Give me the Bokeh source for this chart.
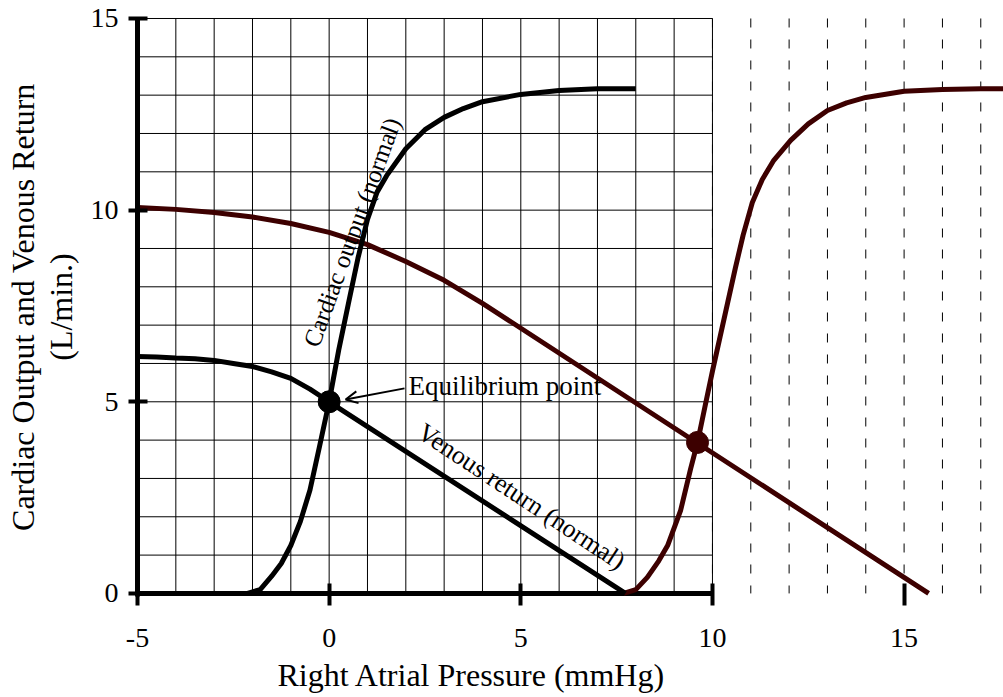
import math
from bokeh.plotting import figure
from bokeh.models import Range1d, LinearAxis, FixedTicker, Label, Arrow, OpenHead, Title
from bokeh.embed import file_html
from bokeh.resources import INLINE

# ---------------- data ----------------
x_ticks = [-5, 0, 5, 10, 15]
y_ticks = [0, 5, 10, 15]
grid_x = [-4, -3, -2, -1, 0, 1, 2, 3, 4, 5, 6, 7, 8, 9, 10]
grid_y = [1, 2, 3, 4, 5, 6, 7, 8, 9, 10, 11, 12, 13, 14, 15]
dash_x = [10, 11, 12, 13, 14, 15, 16, 17]

# Cardiac output (normal)
co_x = [-2.13, -1.8, -1.5, -1.25, -1.0, -0.75, -0.5, -0.25, 0.0, 0.25, 0.5, 0.75,
        1.0, 1.25, 1.5, 2.0, 2.5, 3.0, 3.5, 4.0, 5.0, 6.0, 7.0, 8.0]
co_y = [0.0, 0.1, 0.45, 0.78, 1.25, 1.88, 2.7, 3.84, 5.0, 6.35, 7.55, 8.74,
        9.76, 10.47, 10.9, 11.6, 12.1, 12.42, 12.65, 12.83, 13.02, 13.12, 13.17, 13.17]

# Venous return (normal)
vr_x = [-5.0, -4.5, -4.0, -3.5, -3.0, -2.5, -2.0, -1.5, -1.0, -0.5, 0.0, 7.73]
vr_y = [6.18, 6.17, 6.14, 6.12, 6.08, 6.0, 5.92, 5.78, 5.61, 5.33, 5.0, 0.0]

# Cardiac output (shifted curve, dark red)
co2_x = [7.68, 8.0, 8.3, 8.6, 8.83, 9.17, 9.43, 9.61, 9.8, 10.0, 10.2, 10.4, 10.6,
         10.8, 11.04, 11.3, 11.6, 12.04, 12.5, 13.0, 13.5, 14.0, 15.0, 16.0, 17.0, 17.6]
co2_y = [0.0, 0.1, 0.42, 0.85, 1.25, 2.17, 3.25, 3.94, 4.85, 5.8, 6.7, 7.6, 8.5,
         9.35, 10.2, 10.8, 11.3, 11.82, 12.25, 12.6, 12.8, 12.94, 13.1, 13.15, 13.17, 13.17]

# Venous return (shifted curve, dark red)
vr2_x = [-5.0, -4.0, -3.0, -2.0, -1.0, 0.0, 1.0, 2.0, 3.0, 4.0, 15.64]
vr2_y = [10.07, 10.02, 9.94, 9.82, 9.65, 9.42, 9.1, 8.66, 8.17, 7.57, 0.0]

eq_x = [0.0]
eq_y = [5.0]
eq2_x = [9.61]
eq2_y = [3.94]

DARK = "#3d0000"
FONT = "Liberation Serif"

p = figure(width=1003, height=697, output_backend="svg", toolbar_location=None,
           x_range=Range1d(-5, 17.593), y_range=Range1d(-0.08, 15.026),
           x_axis_location=None, y_axis_location=None,
           min_border_left=137, min_border_right=0, min_border_top=17,
           min_border_bottom=101)
p.outline_line_color = None
p.xgrid.visible = False
p.ygrid.visible = False
p.background_fill_color = "white"
p.border_fill_color = "white"

# grid
p.segment(x0=grid_x, y0=0, x1=grid_x, y1=15, line_color="black", line_width=1)
p.segment(x0=-5, y0=grid_y, x1=10, y1=grid_y, line_color="black", line_width=1)
p.segment(x0=dash_x, y0=15, x1=dash_x, y1=0, line_color="black", line_width=1,
          line_dash="9 12")

# bottom axis line (-5..10)
p.line([x_ticks[0], grid_x[-1]], [0, 0], line_color="black", line_width=5)

# axes
yaxis = LinearAxis(ticker=FixedTicker(ticks=y_ticks), axis_line_width=5,
                   axis_line_color="black",
                   major_tick_line_width=4, major_tick_in=10, major_tick_out=9,
                   minor_tick_line_color=None, major_label_standoff=10,
                   major_label_text_font=FONT, major_label_text_font_size="28px",
                   major_label_text_color="black",
                   axis_label="Cardiac Output and Venous Return\n(L/min.)",
                   axis_label_text_font=FONT, axis_label_text_font_size="32px",
                   axis_label_text_font_style="normal",
                   axis_label_text_line_height=1.04,
                   axis_label_standoff=9, axis_label_text_color="black")
p.add_layout(yaxis, "left")
xaxis = LinearAxis(ticker=FixedTicker(ticks=x_ticks), axis_line_color=None,
                   major_tick_line_width=4, major_tick_in=13, major_tick_out=9,
                   minor_tick_line_color=None, major_label_standoff=23,
                   major_label_text_font=FONT, major_label_text_font_size="28px",
                   major_label_text_color="black",
                   major_label_overrides={-5: "-5"})
p.add_layout(xaxis, "below")
p.add_layout(Title(text="Right Atrial Pressure (mmHg)", align="left", offset=140,
                   text_font=FONT, text_font_size="32px", text_font_style="normal",
                   text_color="black", standoff=10, vertical_align="bottom"), "below")

# curves
p.line(vr2_x, vr2_y, line_color=DARK, line_width=5)
p.line(co2_x, co2_y, line_color=DARK, line_width=5)
p.line(vr_x, vr_y, line_color="black", line_width=5)
p.line(co_x, co_y, line_color="black", line_width=5)
p.scatter(eq_x, eq_y, size=22, color="black")
p.scatter(eq2_x, eq2_y, size=22, color=DARK)

# annotations
p.add_layout(Arrow(end=OpenHead(size=12, line_width=2, line_color="black"),
                   x_start=1.966, y_start=5.35, x_end=0.43, y_end=5.06,
                   line_width=2, line_color="black"))
p.add_layout(Label(x=2.07, y=5.40, text="Equilibrium point", text_font=FONT,
                   text_font_size="27px", text_baseline="middle", text_align="left",
                   text_color="black"))
p.add_layout(Label(x=0.60, y=9.42, text="Cardiac output (normal)", text_font=FONT,
                   text_font_size="25px", text_baseline="middle", text_align="center",
                   angle=math.radians(70), text_color="black"))
p.add_layout(Label(x=5.02, y=2.53, text="Venous return (normal)", text_font=FONT,
                   text_font_size="26px", text_baseline="middle", text_align="center",
                   angle=math.radians(-33.5), text_color="black"))

open("out.html", "w").write(file_html(p, INLINE))
